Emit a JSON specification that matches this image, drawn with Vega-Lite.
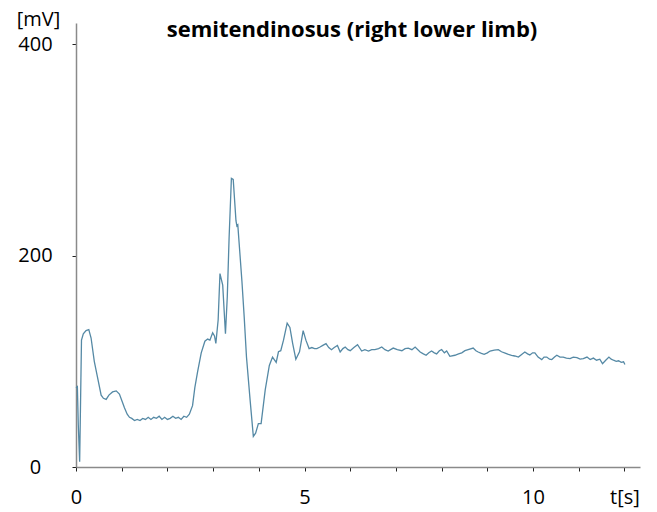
{
  "$schema": "https://vega.github.io/schema/vega-lite/v6.json",
  "width": 564,
  "height": 444,
  "autosize": {"type": "none"},
  "padding": {"left": 76, "top": 23, "right": 17, "bottom": 45},
  "background": "white",
  "title": {
    "text": "semitendinosus (right lower limb)",
    "font": "Open Sans",
    "fontSize": 22,
    "fontWeight": "bold",
    "color": "black",
    "anchor": "middle",
    "dx": -6,
    "dy": 37
  },
  "config": {
    "view": {"stroke": null},
    "axis": {"grid": false, "labelFont": "Open Sans", "labelFontSize": 20, "labelColor": "black", "domainColor": "#8a8a8a", "domainWidth": 1.5, "tickColor": "#222222", "tickSize": 4}
  },
  "data": {
    "values": [
      {"t": 0.0, "v": 75}, {"t": 0.03, "v": 76}, {"t": 0.05, "v": 40}, {"t": 0.08, "v": 5},
      {"t": 0.12, "v": 120}, {"t": 0.16, "v": 126}, {"t": 0.22, "v": 129}, {"t": 0.28, "v": 130},
      {"t": 0.33, "v": 122}, {"t": 0.40, "v": 100}, {"t": 0.47, "v": 85}, {"t": 0.55, "v": 68},
      {"t": 0.60, "v": 65}, {"t": 0.66, "v": 64}, {"t": 0.72, "v": 68}, {"t": 0.80, "v": 71},
      {"t": 0.88, "v": 72}, {"t": 0.95, "v": 69}, {"t": 1.01, "v": 62}, {"t": 1.06, "v": 56},
      {"t": 1.12, "v": 50}, {"t": 1.17, "v": 47}, {"t": 1.22, "v": 46}, {"t": 1.28, "v": 44},
      {"t": 1.34, "v": 45}, {"t": 1.40, "v": 44}, {"t": 1.46, "v": 46}, {"t": 1.52, "v": 45},
      {"t": 1.58, "v": 47}, {"t": 1.64, "v": 45}, {"t": 1.70, "v": 47}, {"t": 1.76, "v": 46},
      {"t": 1.82, "v": 48}, {"t": 1.88, "v": 45}, {"t": 1.94, "v": 47}, {"t": 2.00, "v": 45},
      {"t": 2.06, "v": 46}, {"t": 2.12, "v": 48}, {"t": 2.18, "v": 46}, {"t": 2.24, "v": 47},
      {"t": 2.30, "v": 45}, {"t": 2.36, "v": 48}, {"t": 2.42, "v": 47}, {"t": 2.48, "v": 50},
      {"t": 2.55, "v": 58}, {"t": 2.60, "v": 75}, {"t": 2.66, "v": 90}, {"t": 2.74, "v": 108},
      {"t": 2.82, "v": 119}, {"t": 2.88, "v": 121}, {"t": 2.93, "v": 120}, {"t": 2.99, "v": 127},
      {"t": 3.03, "v": 124}, {"t": 3.06, "v": 117}, {"t": 3.11, "v": 139}, {"t": 3.15, "v": 183},
      {"t": 3.21, "v": 172}, {"t": 3.27, "v": 126}, {"t": 3.31, "v": 161}, {"t": 3.35, "v": 217},
      {"t": 3.40, "v": 273}, {"t": 3.44, "v": 272}, {"t": 3.50, "v": 233}, {"t": 3.52, "v": 228},
      {"t": 3.54, "v": 229}, {"t": 3.63, "v": 176}, {"t": 3.68, "v": 142}, {"t": 3.73, "v": 104},
      {"t": 3.81, "v": 63}, {"t": 3.88, "v": 29}, {"t": 3.93, "v": 32}, {"t": 3.99, "v": 41},
      {"t": 4.05, "v": 41}, {"t": 4.14, "v": 73}, {"t": 4.23, "v": 96}, {"t": 4.30, "v": 104},
      {"t": 4.38, "v": 99}, {"t": 4.43, "v": 109}, {"t": 4.48, "v": 110}, {"t": 4.54, "v": 120},
      {"t": 4.62, "v": 136}, {"t": 4.68, "v": 132}, {"t": 4.74, "v": 117}, {"t": 4.81, "v": 102},
      {"t": 4.89, "v": 109}, {"t": 4.97, "v": 129}, {"t": 5.03, "v": 120}, {"t": 5.10, "v": 112},
      {"t": 5.16, "v": 113}, {"t": 5.22, "v": 112}, {"t": 5.27, "v": 112}, {"t": 5.34, "v": 113.5},
      {"t": 5.40, "v": 115}, {"t": 5.47, "v": 116.7}, {"t": 5.53, "v": 113}, {"t": 5.59, "v": 111},
      {"t": 5.65, "v": 113}, {"t": 5.72, "v": 115}, {"t": 5.78, "v": 108.8}, {"t": 5.84, "v": 112},
      {"t": 5.89, "v": 113.5}, {"t": 5.95, "v": 111}, {"t": 6.0, "v": 110}, {"t": 6.08, "v": 113},
      {"t": 6.16, "v": 115.7}, {"t": 6.25, "v": 109.7}, {"t": 6.32, "v": 111}, {"t": 6.40, "v": 109.7},
      {"t": 6.47, "v": 111}, {"t": 6.54, "v": 111}, {"t": 6.62, "v": 112}, {"t": 6.69, "v": 113.5},
      {"t": 6.76, "v": 111}, {"t": 6.83, "v": 109.7}, {"t": 6.94, "v": 112.5}, {"t": 7.03, "v": 111},
      {"t": 7.13, "v": 110}, {"t": 7.20, "v": 112}, {"t": 7.27, "v": 112.5}, {"t": 7.35, "v": 111},
      {"t": 7.42, "v": 113.5}, {"t": 7.53, "v": 108.8}, {"t": 7.60, "v": 107}, {"t": 7.66, "v": 105.7},
      {"t": 7.72, "v": 108}, {"t": 7.78, "v": 109.7}, {"t": 7.84, "v": 108}, {"t": 7.89, "v": 107},
      {"t": 7.95, "v": 110}, {"t": 8.0, "v": 111}, {"t": 8.06, "v": 108}, {"t": 8.11, "v": 109.7},
      {"t": 8.18, "v": 104.7}, {"t": 8.29, "v": 105.7}, {"t": 8.37, "v": 107}, {"t": 8.44, "v": 108},
      {"t": 8.51, "v": 110}, {"t": 8.58, "v": 111}, {"t": 8.69, "v": 112.5}, {"t": 8.75, "v": 110},
      {"t": 8.80, "v": 108.8}, {"t": 8.87, "v": 107.5}, {"t": 8.93, "v": 106.6}, {"t": 9.0, "v": 108},
      {"t": 9.06, "v": 109.7}, {"t": 9.15, "v": 110.5}, {"t": 9.24, "v": 111}, {"t": 9.31, "v": 109},
      {"t": 9.39, "v": 107.8}, {"t": 9.46, "v": 106.5}, {"t": 9.53, "v": 105.7}, {"t": 9.60, "v": 105},
      {"t": 9.68, "v": 104}, {"t": 9.75, "v": 106.5}, {"t": 9.82, "v": 108.8}, {"t": 9.88, "v": 107},
      {"t": 9.93, "v": 106}, {"t": 9.99, "v": 108}, {"t": 10.04, "v": 108}, {"t": 10.11, "v": 104},
      {"t": 10.19, "v": 101.6}, {"t": 10.24, "v": 104}, {"t": 10.30, "v": 104}, {"t": 10.36, "v": 102},
      {"t": 10.41, "v": 101.6}, {"t": 10.47, "v": 104}, {"t": 10.52, "v": 105.7}, {"t": 10.59, "v": 104},
      {"t": 10.66, "v": 104}, {"t": 10.73, "v": 103}, {"t": 10.81, "v": 102.5}, {"t": 10.88, "v": 104},
      {"t": 10.96, "v": 103.5}, {"t": 11.03, "v": 102}, {"t": 11.10, "v": 102.5}, {"t": 11.18, "v": 104},
      {"t": 11.25, "v": 101.6}, {"t": 11.32, "v": 103}, {"t": 11.39, "v": 101}, {"t": 11.46, "v": 102},
      {"t": 11.52, "v": 97.8}, {"t": 11.59, "v": 101}, {"t": 11.66, "v": 104}, {"t": 11.71, "v": 102},
      {"t": 11.76, "v": 101}, {"t": 11.82, "v": 100}, {"t": 11.87, "v": 100.5}, {"t": 11.93, "v": 99},
      {"t": 11.98, "v": 99.5}, {"t": 12.01, "v": 97}
    ]
  },
  "mark": {"type": "line", "color": "#5589a5", "strokeWidth": 1.3},
  "encoding": {
    "x": {
      "field": "t", "type": "quantitative",
      "scale": {"domain": [0, 12.34], "nice": false, "zero": false},
      "axis": {
        "title": null,
        "values": [0, 1, 2, 3, 4, 5, 6, 7, 8, 9, 10, 11, 12],
        "labelExpr": "datum.value == 12 ? 't[s]' : (datum.value % 5 == 0 ? datum.label : '')",
        "labelPadding": 16,
        "labelAlign": "center",
        "labelBaseline": "top",
        "labelFlush": false,
        "labelOverlap": false
      }
    },
    "y": {
      "field": "v", "type": "quantitative",
      "scale": {"domain": [0, 420], "nice": false},
      "axis": {
        "title": "[mV]",
        "titleFont": "Open Sans",
        "titleFontSize": 20,
        "titleFontWeight": "normal",
        "titleColor": "black",
        "titleAngle": 0,
        "titleAlign": "center",
        "titleBaseline": "middle",
        "titleX": -38,
        "titleY": -4,
        "values": [0, 200, 400],
        "labelAlign": "center",
        "labelPadding": 37,
        "labelBaseline": "middle",
        "labelFlush": false
      }
    }
  }
}
